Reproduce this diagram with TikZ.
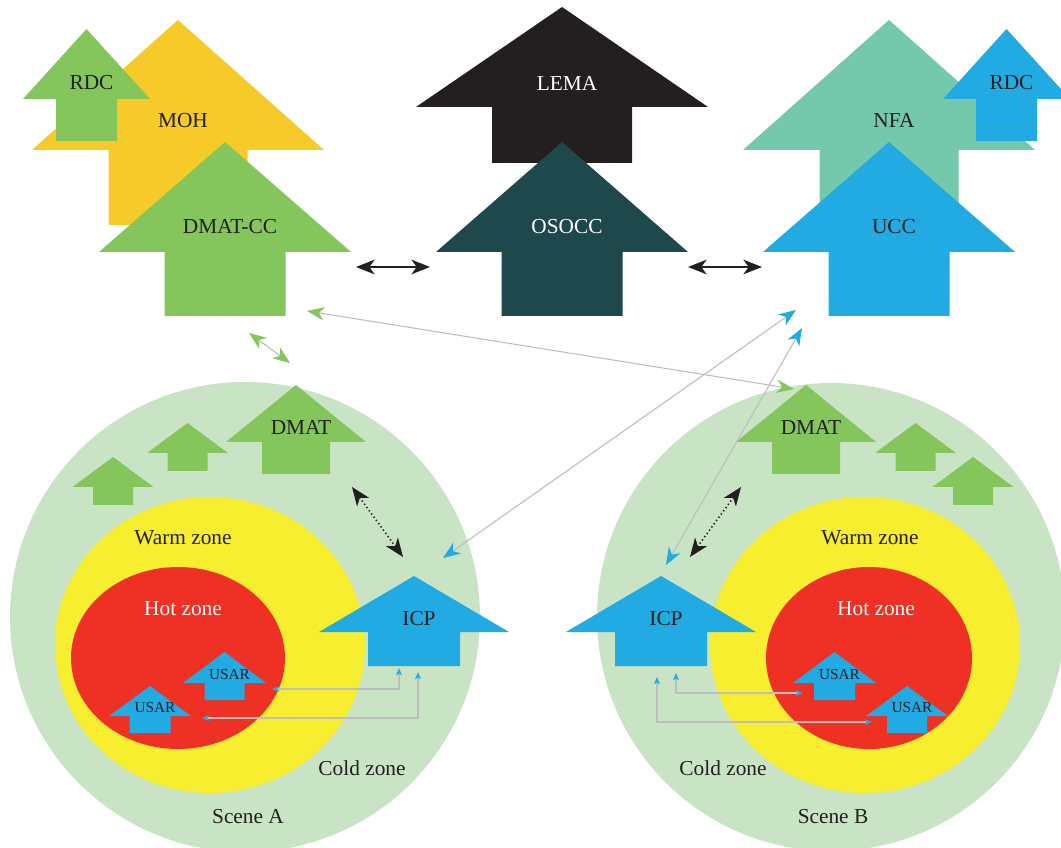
\documentclass[tikz,border=0pt]{standalone}
\usepackage{fontspec}
\setmainfont{Liberation Serif}
\usepackage{tikz}
\usetikzlibrary{arrows.meta}
\definecolor{mohcol}{HTML}{F6CB29}
\definecolor{dmatcol}{HTML}{84C55C}
\definecolor{nfacol}{HTML}{74C8AC}
\definecolor{ucccol}{HTML}{22AAE2}
\definecolor{lemacol}{HTML}{231F20}
\definecolor{osocccol}{HTML}{1E484C}
\definecolor{coldcol}{HTML}{C9E4C5}
\definecolor{warmcol}{HTML}{F8EE30}
\definecolor{hotcol}{HTML}{EE3124}
\definecolor{linkcol}{HTML}{BDBDBD}
\definecolor{inkcol}{HTML}{231F20}
\newcommand{\usarsize}{\fontsize{11.5}{13}\selectfont}
\tikzset{
  lbl/.style={text=inkcol, inner sep=1pt, font=\fontsize{16}{18}\selectfont}}
% name, fill, centre x, apex y, head half width, head height, shaft half width, shaft height, text
\newcommand{\uparrowbox}[9]{%
  \fill[#2] (#3,#4) -- ++(#5,#6) -- ++({#7-#5},0) -- ++(0,#8)
    -- ++({-2*#7},0) -- ++(0,{-#8}) -- ++({#7-#5},0) -- cycle;
  \node[lbl] (#1) at ({#3+5},{#4+0.5*(#6+#8)-2}) {#9};}

\begin{document}
\begin{tikzpicture}[x=0.75pt, y=-0.75pt,
      blk/.style={{Stealth[length=14pt,width=11pt,inset=4pt]}-{Stealth[length=14pt,width=11pt,inset=4pt]},
        line width=1pt, inkcol},
      dotblk/.style={blk, dotted, line width=1.2pt},
      grnlink/.style={{Stealth[length=13pt,width=10pt,inset=4pt,color=dmatcol]}-{Stealth[length=13pt,width=10pt,inset=4pt,color=dmatcol]},
        line width=0.8pt, linkcol},
      bluelink/.style={{Stealth[length=13pt,width=10pt,inset=4pt,color=ucccol]}-{Stealth[length=13pt,width=10pt,inset=4pt,color=ucccol]},
        line width=0.8pt, linkcol},
      usarlink/.style={{Stealth[length=5.5pt,width=4.5pt,inset=1.5pt,color=ucccol]}-{Stealth[length=5.5pt,width=4.5pt,inset=1.5pt,color=ucccol]},
        line width=1pt, linkcol}]
  \fill[white] (0,0) rectangle (1061,848);
  \useasboundingbox (0,0) rectangle (1061,848);
  % top row
  \uparrowbox{moh}{mohcol}{178}{20}{146}{130}{69.5}{75}{MOH}
  \uparrowbox{rdcl}{dmatcol}{86.5}{29}{63.5}{70}{30.5}{42}{RDC}
  \uparrowbox{dmatcc}{dmatcol}{225}{142}{126}{110}{60.5}{64}{DMAT-CC}
  \uparrowbox{lema}{lemacol}{562}{7}{146}{100}{70}{56}{\textcolor{white}{LEMA}}
  \uparrowbox{osocc}{osocccol}{562}{142}{126}{110}{60.5}{64}{\textcolor{white}{OSOCC}}
  \uparrowbox{nfa}{nfacol}{889}{20}{146}{130}{69.5}{75}{NFA}
  \uparrowbox{rdcr}{ucccol}{1006.5}{29}{63.5}{70}{30.5}{42}{RDC}
  \uparrowbox{ucc}{ucccol}{889}{142}{126}{110}{60.5}{64}{UCC}
  % scenes
  \fill[coldcol] (245,617) circle[radius=235];
  \fill[warmcol] (210,645) ellipse[x radius=155, y radius=148];
  \fill[hotcol] (178,658) ellipse[x radius=107, y radius=91];
  \fill[coldcol] (831,617) circle[radius=234];
  \fill[warmcol] (865,645) ellipse[x radius=155, y radius=148];
  \fill[hotcol] (869,658) ellipse[x radius=103, y radius=91];
  \uparrowbox{dmata}{dmatcol}{296}{385}{70}{57}{34}{32}{DMAT}
  \uparrowbox{teama1}{dmatcol}{187.5}{423}{40.5}{30}{20}{18}{}
  \uparrowbox{teama2}{dmatcol}{113}{457}{40.5}{30}{20}{18}{}
  \uparrowbox{dmatb}{dmatcol}{806}{385}{70}{57}{34}{32}{DMAT}
  \uparrowbox{teamb1}{dmatcol}{915.5}{423}{40.5}{30}{20}{18}{}
  \uparrowbox{teamb2}{dmatcol}{973}{457}{40.5}{30}{20}{18}{}
  \uparrowbox{icpa}{ucccol}{414}{576}{95}{56}{46}{34}{ICP}
  \uparrowbox{icpb}{ucccol}{661}{576}{95}{56}{46}{34}{ICP}
  \uparrowbox{usara1}{ucccol}{224.5}{652}{41.5}{31}{20}{17}{\usarsize USAR}
  \uparrowbox{usara2}{ucccol}{150}{686}{41}{30}{20.5}{17}{\usarsize USAR}
  \uparrowbox{usarb1}{ucccol}{834.5}{652}{41.5}{31}{20.5}{17}{\usarsize USAR}
  \uparrowbox{usarb2}{ucccol}{907}{686}{41}{30}{20}{17}{\usarsize USAR}
  \node[lbl] (warma) at (183,538) {Warm zone};
  \node[lbl, text=white] (hota) at (183,609) {Hot zone};
  \node[lbl] (colda) at (362,768) {Cold zone};
  \node[lbl] (scenea) at (248,817) {Scene A};
  \node[lbl] (warmb) at (870,538) {Warm zone};
  \node[lbl, text=white] (hotb) at (876,609) {Hot zone};
  \node[lbl] (coldb) at (723,768) {Cold zone};
  \node[lbl] (sceneb) at (833,817) {Scene B};
  % links
  \coordinate (ccr) at (356,267);
  \coordinate (osl) at (430,267);
  \coordinate (osr) at (688,267);
  \coordinate (uccl) at (762,267);
  \coordinate (cclow) at (249,333);
  \coordinate (datop) at (290,363);
  \coordinate (ccside) at (307,311);
  \coordinate (dbtop) at (794,389);
  \coordinate (ucclow1) at (796,310);
  \coordinate (iatop) at (443,558);
  \coordinate (ucclow2) at (802,328);
  \coordinate (ibtop) at (666,565);
  \coordinate (dalow) at (352,487);
  \coordinate (iaup) at (403,557);
  \coordinate (dblow) at (741,487);
  \coordinate (ibup) at (690,557);
  \draw[blk] (ccr) -- (osl);
  \draw[blk] (osr) -- (uccl);
  \draw[grnlink] (cclow) -- (datop);
  \draw[grnlink] (ccside) -- (dbtop);
  \draw[bluelink] (ucclow1) -- (iatop);
  \draw[bluelink] (ucclow2) -- (ibtop);
  \draw[dotblk] (dalow) -- (iaup);
  \draw[dotblk] (dblow) -- (ibup);
  \coordinate (ia1) at (399,668);
  \coordinate (ua1) at (272,689);
  \coordinate (ia2) at (418,672);
  \coordinate (ua2) at (202,718);
  \coordinate (ib1) at (676,673);
  \coordinate (ub1) at (803,693);
  \coordinate (ib2) at (657,677);
  \coordinate (ub2) at (872,722);
  \draw[usarlink] (ia1) |- (ua1);
  \draw[usarlink] (ia2) |- (ua2);
  \draw[usarlink] (ib1) |- (ub1);
  \draw[usarlink] (ib2) |- (ub2);
\end{tikzpicture}
\end{document}
